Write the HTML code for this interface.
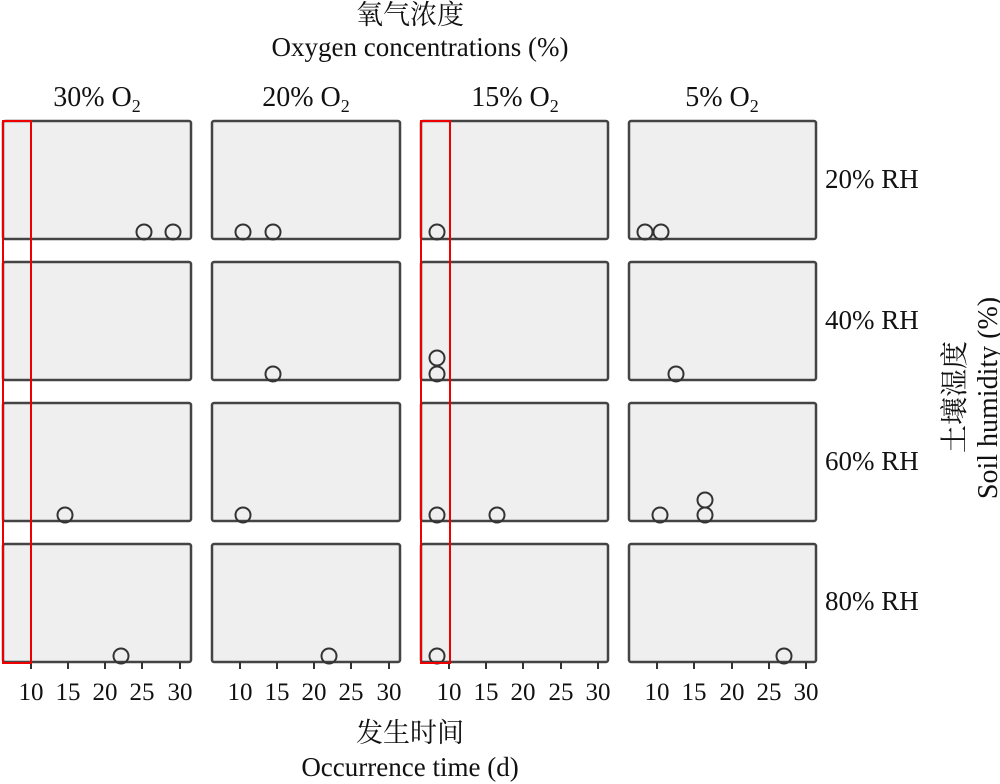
<!DOCTYPE html>
<html><head><meta charset="utf-8"><style>body{margin:0;background:#fff}svg{display:block}text{font-family:"Liberation Serif","Noto Serif CJK SC",serif;fill:#111}</style></head><body>
<svg width="1000" height="784" viewBox="0 0 1000 784" xmlns="http://www.w3.org/2000/svg">
<g font-size="27" text-anchor="middle">
<text x="410" y="24">氧气浓度</text>
<text x="420" y="56">Oxygen concentrations (%)</text>
<text x="410" y="742">发生时间</text>
<text x="410" y="776">Occurrence time (d)</text>
</g>
<g font-size="28" text-anchor="middle">
<text x="97" y="106">30% O<tspan font-size="18" dy="6">2</tspan></text>
<text x="306" y="106">20% O<tspan font-size="18" dy="6">2</tspan></text>
<text x="515" y="106">15% O<tspan font-size="18" dy="6">2</tspan></text>
<text x="722" y="106">5% O<tspan font-size="18" dy="6">2</tspan></text>
</g>
<g font-size="27">
<text x="825" y="188">20% RH</text>
<text x="825" y="329">40% RH</text>
<text x="825" y="470">60% RH</text>
<text x="825" y="610">80% RH</text>
</g>
<g font-size="28" text-anchor="middle">
<text transform="translate(964,397) rotate(-90)">土壤湿度</text>
<text transform="translate(997,398) rotate(-90)">Soil humidity (%)</text>
</g>
<g fill="#efefef" stroke="#444" stroke-width="2.5">
<rect x="3" y="121" width="188" height="118" rx="2"/><rect x="212" y="121" width="188" height="118" rx="2"/><rect x="421" y="121" width="187" height="118" rx="2"/><rect x="629" y="121" width="187" height="118" rx="2"/>
<rect x="3" y="262" width="188" height="118" rx="2"/><rect x="212" y="262" width="188" height="118" rx="2"/><rect x="421" y="262" width="187" height="118" rx="2"/><rect x="629" y="262" width="187" height="118" rx="2"/>
<rect x="3" y="403" width="188" height="118" rx="2"/><rect x="212" y="403" width="188" height="118" rx="2"/><rect x="421" y="403" width="187" height="118" rx="2"/><rect x="629" y="403" width="187" height="118" rx="2"/>
<rect x="3" y="544" width="188" height="118" rx="2"/><rect x="212" y="544" width="188" height="118" rx="2"/><rect x="421" y="544" width="187" height="118" rx="2"/><rect x="629" y="544" width="187" height="118" rx="2"/>
</g>
<g stroke="#333" stroke-width="2">
<path d="M31 662v7M68 662v7M105 662v7M142 662v7M180 662v7"/>
<path d="M240 662v7M277 662v7M314 662v7M351 662v7M389 662v7"/>
<path d="M449 662v7M486 662v7M523 662v7M561 662v7M598 662v7"/>
<path d="M657 662v7M694 662v7M732 662v7M769 662v7M806 662v7"/>
</g>
<g font-size="25" text-anchor="middle">
<text x="31" y="700">10</text><text x="68" y="700">15</text><text x="105" y="700">20</text><text x="142" y="700">25</text><text x="180" y="700">30</text>
<text x="240" y="700">10</text><text x="277" y="700">15</text><text x="314" y="700">20</text><text x="351" y="700">25</text><text x="389" y="700">30</text>
<text x="449" y="700">10</text><text x="486" y="700">15</text><text x="523" y="700">20</text><text x="561" y="700">25</text><text x="598" y="700">30</text>
<text x="657" y="700">10</text><text x="694" y="700">15</text><text x="732" y="700">20</text><text x="769" y="700">25</text><text x="806" y="700">30</text>
</g>
<g fill="none" stroke="#333" stroke-width="2">
<circle cx="144" cy="232" r="7.5"/><circle cx="173" cy="232" r="7.5"/><circle cx="243" cy="232" r="7.5"/><circle cx="273" cy="232" r="7.5"/><circle cx="437" cy="232" r="7.5"/><circle cx="645" cy="232" r="7.5"/><circle cx="661" cy="232" r="7.5"/>
<circle cx="273" cy="374" r="7.5"/><circle cx="437" cy="374" r="7.5"/><circle cx="437" cy="358" r="7.5"/><circle cx="676" cy="374" r="7.5"/>
<circle cx="65" cy="515" r="7.5"/><circle cx="243" cy="515" r="7.5"/><circle cx="437" cy="515" r="7.5"/><circle cx="497" cy="515" r="7.5"/><circle cx="660" cy="515" r="7.5"/><circle cx="705" cy="515" r="7.5"/><circle cx="705" cy="500" r="7.5"/>
<circle cx="121" cy="656" r="7.5"/><circle cx="329" cy="656" r="7.5"/><circle cx="437" cy="656" r="7.5"/><circle cx="784" cy="656" r="7.5"/>
</g>
<g fill="none" stroke="#e00" stroke-width="2">
<rect x="3" y="121" width="28" height="542"/>
<rect x="421" y="121" width="29" height="542"/>
</g>
</svg>
</body></html>
